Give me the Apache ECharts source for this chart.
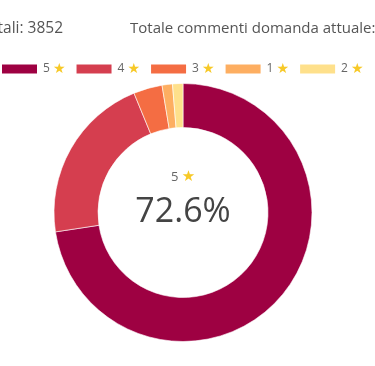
<!DOCTYPE html>
<html><head><meta charset="utf-8">
<script src="https://cdn.jsdelivr.net/npm/echarts@6/dist/echarts.min.js"></script>
<style>html,body{margin:0;padding:0;background:#fff}#c{width:375px;height:366px}</style>
</head><body><div id="c"></div>
<script>
const categories = ['5', '4', '3', '1', '2'];
const values = [726, 212, 36, 13, 13];
const colors = ['#9e0142', '#d53e4f', '#f46d43', '#fdae61', '#fee08b'];
const totalAllLabel = 'Totale commenti totali: 3852';
const totalCurrentLabel = 'Totale commenti domanda attuale: 1000';

const FONT = '"Open Sans", sans-serif';
const sum = values.reduce((a, b) => a + b, 0);
const topPct = (values[0] / sum * 100).toFixed(1) + '%';
const cx = 183, cy = 212.5;

const chart = echarts.init(document.getElementById('c'), null, {renderer: 'canvas'});
chart.setOption({
  animation: false,
  color: colors,
  legend: {
    top: 62,
    left: 0,
    width: 400,
    padding: 0,
    itemWidth: 37,
    itemHeight: 11,
    itemGap: 9,
    icon: 'rect',
    data: categories,
    formatter: n => '{n|' + n + '} {s|★}',
    textStyle: {
      fontFamily: FONT,
      rich: {
        n: {fontSize: 12, color: '#666', fontFamily: FONT},
        s: {fontSize: 14, color: '#f7c928', fontFamily: 'DejaVu Sans'}
      }
    }
  },
  graphic: [
    {type: 'text', x: 63, y: 21, style: {text: totalAllLabel, align: 'right', fill: '#555', font: '15.5px ' + FONT}},
    {type: 'text', x: 130, y: 21, style: {text: totalCurrentLabel, align: 'left', fill: '#555', font: '15px ' + FONT}},
    {type: 'text', x: cx, y: 177, style: {
      text: '{n|' + categories[0] + '} {s|★}', align: 'center', verticalAlign: 'middle',
      rich: {n: {fontSize: 13, fill: '#666', fontFamily: FONT}, s: {fontSize: 15, fill: '#f7c928', fontFamily: 'DejaVu Sans'}}
    }},
    {type: 'text', x: cx, y: 212, style: {text: topPct, align: 'center', verticalAlign: 'middle', fill: '#444', font: '34px ' + FONT}}
  ],
  series: [{
    type: 'pie',
    center: [cx, cy],
    radius: [85, 129],
    startAngle: 90,
    clockwise: true,
    label: {show: false},
    labelLine: {show: false},
    itemStyle: {borderColor: '#fff', borderWidth: 0.6},
    emphasis: {disabled: true},
    data: categories.map((c, i) => ({name: c, value: values[i]}))
  }]
});
</script></body></html>
